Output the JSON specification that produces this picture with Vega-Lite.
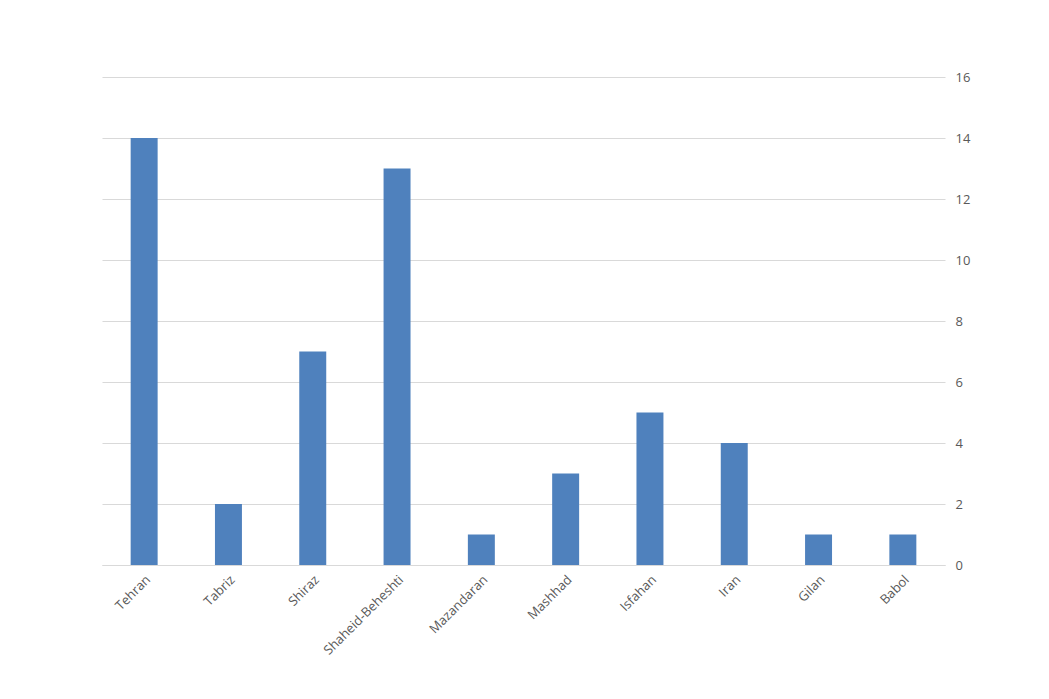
{
  "$schema": "https://vega.github.io/schema/vega-lite/v6.json",
  "width": 843,
  "height": 488,
  "autosize": {"type": "none"},
  "padding": {"left": 102, "top": 77, "right": 104, "bottom": 134},
  "background": "white",
  "config": {"view": {"stroke": null}, "font": "Open Sans"},
  "data": {"values": [
    {"city": "Tehran", "count": 14},
    {"city": "Tabriz", "count": 2},
    {"city": "Shiraz", "count": 7},
    {"city": "Shaheid-Beheshti", "count": 13},
    {"city": "Mazandaran", "count": 1},
    {"city": "Mashhad", "count": 3},
    {"city": "Isfahan", "count": 5},
    {"city": "Iran", "count": 4},
    {"city": "Gilan", "count": 1},
    {"city": "Babol", "count": 1}
  ]},
  "mark": {"type": "bar", "color": "#4F81BD"},
  "encoding": {
    "x": {
      "field": "city", "type": "nominal", "sort": null,
      "scale": {"paddingInner": 0.68, "paddingOuter": 0.34},
      "axis": {"title": null, "labelAngle": -45, "labelFontSize": 13, "labelColor": "#595959", "ticks": false, "domainColor": "#d9d9d9", "labelPadding": 8, "labelFont": "Open Sans"}
    },
    "y": {
      "field": "count", "type": "quantitative",
      "scale": {"domain": [0, 16]},
      "axis": {"orient": "right", "title": null, "values": [0, 2, 4, 6, 8, 10, 12, 14, 16], "ticks": false, "domain": false, "gridColor": "#d9d9d9", "labelFontSize": 13, "labelColor": "#595959", "labelPadding": 10, "labelFont": "Open Sans"}
    }
  }
}
